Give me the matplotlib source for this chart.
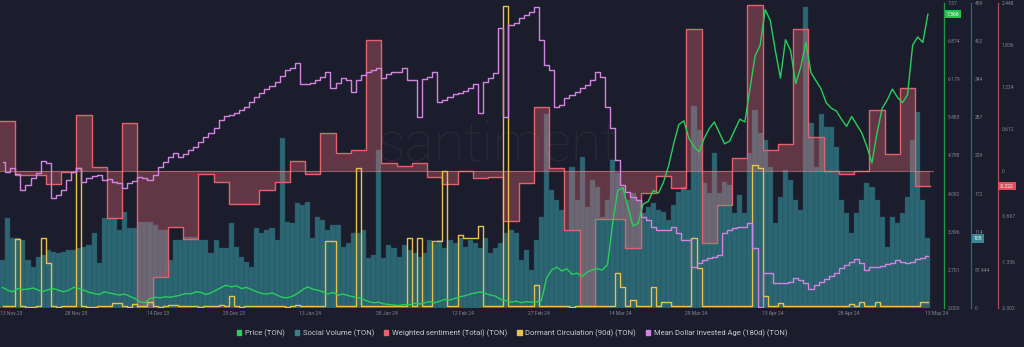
import numpy as np
import pandas as pd
import matplotlib
matplotlib.use("Agg")
import matplotlib.pyplot as plt
import matplotlib.dates as mdates
import matplotlib.transforms as mtransforms
from matplotlib.patches import Patch

plt.rcParams["font.family"] = ["Roboto", "DejaVu Sans"]

# daily series, 13 Nov 2023 .. 13 May 2024
dates = pd.date_range("2023-11-13", "2024-05-13", freq="D")

price = [
    2.38, 2.33, 2.30, 2.36, 2.34, 2.35, 2.37, 2.33, 2.31, 2.34,
    2.36, 2.33, 2.30, 2.33, 2.38, 2.36, 2.33, 2.29, 2.27, 2.25,
    2.30, 2.28, 2.26, 2.24, 2.26, 2.22, 2.18, 2.12, 2.10, 2.18,
    2.20, 2.19, 2.21, 2.20, 2.22, 2.24, 2.27, 2.26, 2.30, 2.29,
    2.25, 2.28, 2.33, 2.38, 2.42, 2.39, 2.41, 2.36, 2.38, 2.34,
    2.30, 2.27, 2.26, 2.28, 2.24, 2.20, 2.19, 2.22, 2.27, 2.34,
    2.39, 2.35, 2.33, 2.30, 2.26, 2.29, 2.24, 2.26, 2.23, 2.21,
    2.19, 2.16, 2.12, 2.10, 2.11, 2.08, 2.07, 2.06, 2.05, 2.07,
    2.06, 2.09, 2.08, 2.10, 2.12, 2.10, 2.13, 2.16, 2.15, 2.18,
    2.21, 2.23, 2.26, 2.28, 2.30, 2.27, 2.24, 2.22, 2.16, 2.14,
    2.11, 2.13, 2.10, 2.12, 2.11, 2.12, 2.14, 2.55, 2.70, 2.75,
    2.68, 2.72, 2.62, 2.64, 2.58, 2.66, 2.70, 2.72, 2.70, 2.80,
    3.55, 4.15, 4.20, 3.85, 3.50, 3.55, 3.90, 3.95, 4.15, 4.10,
    4.30, 4.60, 5.00, 5.35, 5.42, 5.10, 4.95, 4.85, 5.10, 5.28,
    5.40, 5.20, 5.00, 5.05, 5.25, 5.45, 5.40, 6.00, 6.60, 6.80,
    7.45, 7.25, 6.70, 6.20, 6.90, 6.70, 6.10, 6.40, 6.85, 6.30,
    6.15, 6.00, 5.75, 5.65, 5.60, 5.45, 5.32, 5.50, 5.35, 5.20,
    4.95, 4.65, 5.20, 5.65, 5.80, 6.00, 5.85, 5.75, 5.90, 6.80,
    6.95, 6.85, 7.366,
]

social_volume = [
    72, 135, 105, 105, 102, 72, 62, 77, 80, 87,
    84, 83, 84, 87, 87, 90, 92, 95, 113, 68,
    135, 135, 135, 117, 144, 120, 120, 129, 129, 129,
    125, 117, 117, 72, 102, 102, 107, 107, 107, 102,
    102, 83, 102, 90, 90, 128, 92, 77, 69, 62,
    120, 113, 117, 120, 102, 256, 129, 128, 158, 155,
    160, 105, 137, 132, 117, 125, 125, 92, 98, 113,
    113, 117, 75, 80, 238, 75, 95, 90, 77, 95,
    87, 83, 77, 83, 102, 98, 102, 90, 102, 98,
    105, 92, 102, 98, 90, 105, 83, 90, 98, 113,
    117, 113, 72, 87, 57, 102, 137, 293, 178, 163,
    147, 117, 212, 163, 227, 152, 193, 182, 137, 163,
    223, 203, 182, 163, 173, 163, 143, 152, 158, 147,
    145, 132, 155, 175, 182, 178, 305, 268, 188, 173,
    233, 173, 190, 185, 143, 170, 143, 233, 298, 263,
    253, 212, 128, 167, 208, 193, 163, 147, 453, 278,
    212, 293, 272, 272, 242, 163, 143, 113, 143, 163,
    188, 182, 163, 137, 92, 137, 128, 143, 167, 253,
    295, 163, 105,
]

# dormant circulation, million TON
dormant_circ = [
    0.5, 0.5, 0.5, 22.6, 0.5, 0.4, 0.4, 0.5, 23.0, 14.8,
    0.5, 0.4, 0.5, 0.5, 0.6, 45.9, 0.5, 0.4, 0.4, 0.5,
    0.5, 0.6, 1.6, 1.5, 0.5, 0.4, 1.2, 0.8, 0.6, 2.0,
    0.5, 0.4, 0.5, 1.0, 1.0, 0.5, 0.5, 0.6, 0.5, 0.4,
    0.5, 0.6, 0.5, 1.0, 0.5, 4.0, 0.5, 0.4, 0.6, 0.5,
    0.5, 0.5, 0.5, 0.6, 0.5, 0.5, 0.4, 0.5, 1.0, 0.6,
    0.5, 0.5, 0.5, 0.6, 22.0, 22.0, 0.6, 0.5, 0.5, 0.6,
    45.9, 0.5, 0.5, 0.5, 0.6, 0.5, 0.5, 0.6, 0.5, 0.6,
    23.0, 0.5, 23.0, 0.5, 0.6, 22.0, 22.0, 44.9, 0.5, 0.6,
    24.0, 23.0, 23.0, 23.0, 27.0, 0.5, 0.5, 0.6, 0.5, 99.0,
    0.6, 0.5, 0.5, 0.6, 0.5, 7.5, 0.6, 0.5, 0.5, 0.6,
    0.5, 0.5, 0.4, 0.5, 0.5, 0.6, 0.5, 0.5, 0.5, 0.6,
    0.5, 11.5, 7.0, 0.6, 2.6, 0.6, 0.5, 0.6, 7.0, 0.6,
    2.0, 2.0, 0.5, 0.5, 0.6, 0.5, 23.0, 13.0, 0.6, 0.5,
    0.5, 0.6, 0.5, 0.5, 0.6, 0.5, 0.5, 0.6, 47.0, 46.0,
    4.0, 0.6, 0.5, 1.6, 0.5, 0.5, 0.6, 0.5, 0.5, 0.6,
    0.5, 0.5, 0.6, 0.5, 0.5, 0.6, 0.5, 1.3, 0.5, 2.0,
    0.6, 0.5, 2.0, 0.5, 0.5, 0.6, 0.5, 0.5, 0.6, 0.5,
    0.5, 2.0, 2.0,
]

# mean dollar invested age, days
mdia = [
    44.6, 43.6, 44.0, 43.4, 41.8, 42.3, 43.0, 43.5, 44.7, 44.5,
    41.0, 41.3, 41.8, 42.8, 43.6, 44.0, 42.6, 43.0, 43.2, 43.3,
    42.8, 42.9, 42.6, 42.5, 42.0, 42.5, 42.7, 43.1, 43.0, 42.8,
    43.3, 44.1, 44.6, 45.1, 45.5, 45.1, 45.4, 45.8, 46.1, 46.6,
    47.1, 47.5, 48.0, 48.8, 49.2, 49.3, 49.5, 49.8, 50.1, 50.6,
    51.1, 51.5, 51.9, 52.2, 52.6, 53.2, 53.8, 54.0, 54.5, 52.4,
    52.4, 52.5, 52.8, 53.1, 53.6, 52.0, 52.5, 53.0, 52.8, 51.6,
    52.8, 53.3, 53.6, 53.8, 54.0, 53.0, 53.4, 53.6, 53.6, 54.0,
    52.8, 52.8, 49.1, 52.9, 53.1, 53.6, 50.6, 50.8, 51.1, 51.4,
    51.5, 51.7, 52.0, 52.4, 49.5, 52.6, 53.0, 53.5, 58.0, 49.1,
    58.3, 58.5, 59.0, 59.3, 59.6, 60.1, 56.8, 54.3, 53.8, 50.1,
    50.3, 51.0, 51.3, 51.6, 52.0, 52.3, 52.8, 53.6, 53.1, 50.1,
    48.0, 44.8, 42.3, 41.6, 41.1, 40.8, 39.1, 38.8, 38.1, 37.8,
    37.8, 37.8, 38.1, 37.5, 36.8, 36.8, 34.1, 34.5, 34.8, 35.0,
    35.1, 35.3, 37.5, 37.8, 38.0, 38.1, 38.1, 38.5, 36.0, 30.1,
    33.5, 33.5, 32.5, 32.5, 32.5, 32.6, 33.0, 32.8, 32.5, 31.9,
    32.3, 32.6, 32.9, 33.2, 33.5, 34.0, 34.3, 34.6, 34.9, 34.5,
    33.8, 34.1, 34.1, 34.2, 34.4, 34.5, 34.8, 34.6, 34.5, 34.6,
    34.9, 35.0, 35.2,
]

# weighted sentiment, one value per 3-day bucket starting 13 Nov 2023
sentiment_start = pd.Timestamp("2023-11-13")
sentiment_step_days = 3
sentiment = [
    0.73, -0.06, -0.06, -0.19, -0.02, 0.82, 0.06, -0.69, 0.70, -2.00,
    -1.55, -0.82, -1.00, -0.05, -0.17, -0.48, -0.48, -0.28, -0.17, 0.15,
    -0.05, 0.55, 0.26, 0.30, 1.91, 0.11, 0.07, 0.11, -0.09, -0.20,
    -0.01, -0.10, -0.09, -0.73, -0.18, 0.93, 0.04, -0.86, -1.98, -0.70,
    -0.70, -1.12, -0.32, -0.08, -0.25, 2.07, -1.05, -0.50, 0.19, 2.42,
    0.30, 0.39, 2.07, 0.50, -0.01, -0.05, -0.01, 0.88, 0.25, 1.21,
    -0.222,
]

x_tick_dates = pd.to_datetime([
    "2023-11-13", "2023-11-28", "2023-12-14", "2023-12-29", "2024-01-13",
    "2024-01-28", "2024-02-12", "2024-02-27", "2024-03-14", "2024-03-29",
    "2024-04-13", "2024-04-28", "2024-05-13",
])

price_ticks = [2.005, 2.701, 3.396, 4.092, 4.788, 5.483, 6.179, 6.874, 7.57]
volume_ticks = [0, 57.444, 114.888, 172.332, 229.776, 287.22, 344.664, 402.108, 459.552]
volume_tick_labels = ["0", "57.444", "114", "172", "229", "287", "344", "402", "459"]
sentiment_ticks = [-2.002, -1.336, -0.667, 0, 0.612, 1.224, 1.836, 2.448]
sentiment_tick_labels = ["-2.002", "-1.336", "-0.667", "0", "0.612", "1.224", "1.836", "2.448"]

BG = "#1c1d2c"
GREEN = "#27cf5a"
TEAL = "#2d6b78"
RED = "#e5606b"
YELLOW = "#e8c24a"
PINK = "#d384e0"
TICK_COLOR = "#80838f"

W, H = 1024, 347
plot_left, plot_right, plot_top, plot_bottom = 0, 934, 3, 308

fig = plt.figure(figsize=(W / 100, H / 100), dpi=100, facecolor=BG)
ax = fig.add_axes([plot_left / W, 1 - plot_bottom / H,
                   (plot_right - plot_left) / W, (plot_bottom - plot_top) / H])
ax.set_facecolor(BG)

t_day = mdates.date2num(dates)
t_mid = t_day + 0.5
t0 = t_day[0]

# social volume bars on the base axes, thin dark seams between days
ax.bar(t_mid, social_volume, width=1.0, color=TEAL, alpha=0.95,
       edgecolor="#24505c", lw=0.3, zorder=2)
ax.set_ylim(0, 459.552)

ax_sent = ax.twinx()
ax_dorm = ax.twinx()
ax_mdia = ax.twinx()
ax_price = ax.twinx()

# weighted sentiment as 3-day steps filled against zero
s_x = mdates.date2num(sentiment_start) + sentiment_step_days * np.arange(len(sentiment))
s_x = np.append(s_x, t_day[-1] + 1)
s_y = np.append(sentiment, sentiment[-1])
ax_sent.fill_between(s_x, s_y, 0, step="post", color="#f06c78", alpha=0.33, lw=0)
ax_sent.step(s_x, s_y, where="post", color=RED, lw=1.0)
ax_sent.axhline(0, color="#f08a92", lw=0.8, alpha=0.55)
ax_sent.set_ylim(-2.002, 2.448)

ax_dorm.step(t_mid, dormant_circ, where="mid", color=YELLOW, lw=1.0)
ax_dorm.set_ylim(0, 100)

ax_mdia.step(t_mid, mdia, where="mid", color=PINK, lw=1.0)
ax_mdia.set_ylim(30.0, 60.5)

ax_price.plot(t_mid, price, color=GREEN, lw=1.0)
ax_price.set_ylim(2.005, 7.57)

for a in (ax, ax_sent, ax_dorm, ax_mdia, ax_price):
    a.set_xlim(t0 + 0.19, t0 + 183.7)
    for side in ("left", "top", "bottom", "right"):
        a.spines[side].set_visible(False)
    a.set_yticks([])
for a in (ax_sent, ax_dorm, ax_mdia, ax_price):
    a.patch.set_visible(False)

# right-hand value scales
def right_scale(a, frac, ticks, labels, color):
    a.yaxis.tick_right()
    a.spines["right"].set_visible(True)
    a.spines["right"].set_position(("axes", frac))
    a.spines["right"].set_color(color)
    a.spines["right"].set_linewidth(0.9)
    a.set_yticks(ticks)
    a.set_yticklabels(labels)
    a.tick_params(axis="y", length=0, pad=2.5, labelsize=3.6, colors=TICK_COLOR)

span = plot_right - plot_left
price_frac = (944 - plot_left) / span
vol_frac = (971 - plot_left) / span
sent_frac = (998 - plot_left) / span
right_scale(ax_price, price_frac, price_ticks, [f"{v:g}" for v in price_ticks], "#1e9a48")
right_scale(ax, vol_frac, volume_ticks, volume_tick_labels, "#2a6673")
right_scale(ax_sent, sent_frac, sentiment_ticks, sentiment_tick_labels, "#a84a57")

# latest-value badges
def badge(a, frac, value, text, color):
    tr = mtransforms.blended_transform_factory(a.transAxes, a.transData)
    a.text(frac, value, text, transform=tr, ha="left", va="center", fontsize=3.6,
           color="white", clip_on=False, zorder=10,
           bbox=dict(boxstyle="square,pad=0.35", facecolor=color, edgecolor="none"))

badge(ax_price, (947 - plot_left) / span, price[-1], "7.366", "#22c552")
badge(ax, (974 - plot_left) / span, social_volume[-1], "105", "#3a8795")
badge(ax_sent, (1000 - plot_left) / span, sentiment[-1], "-0.222", "#e04c5c")

# date axis
ax.set_xticks(mdates.date2num(x_tick_dates))
ax.set_xticklabels([d.strftime("%-d %b %y") for d in x_tick_dates])
ax.tick_params(axis="x", length=0, pad=2.5, labelsize=3.6, colors=TICK_COLOR)
xt = ax.get_xticklabels()
xt[0].set_ha("left")
xt[-1].set_ha("left")

ax_price.text(0.533, 0.53, "santiment", transform=ax.transAxes, ha="center", va="center",
              fontsize=40, color="white", alpha=0.05, fontweight="light", zorder=0)

handles = [
    Patch(color=GREEN, label="Price (TON)"),
    Patch(color="#3a7f8c", label="Social Volume (TON)"),
    Patch(color="#e8606d", label="Weighted sentiment (Total) (TON)"),
    Patch(color=YELLOW, label="Dormant Circulation (90d) (TON)"),
    Patch(color=PINK, label="Mean Dollar Invested Age (180d) (TON)"),
]
fig.legend(handles=handles, loc="center", bbox_to_anchor=(0.5, 1 - 333 / H), ncol=5,
           frameon=False, fontsize=5.5, handlelength=0.6, handleheight=0.6,
           handletextpad=0.45, columnspacing=1.3, labelcolor="#c8cad3")

fig.savefig("out.png", dpi=100, facecolor=BG)
